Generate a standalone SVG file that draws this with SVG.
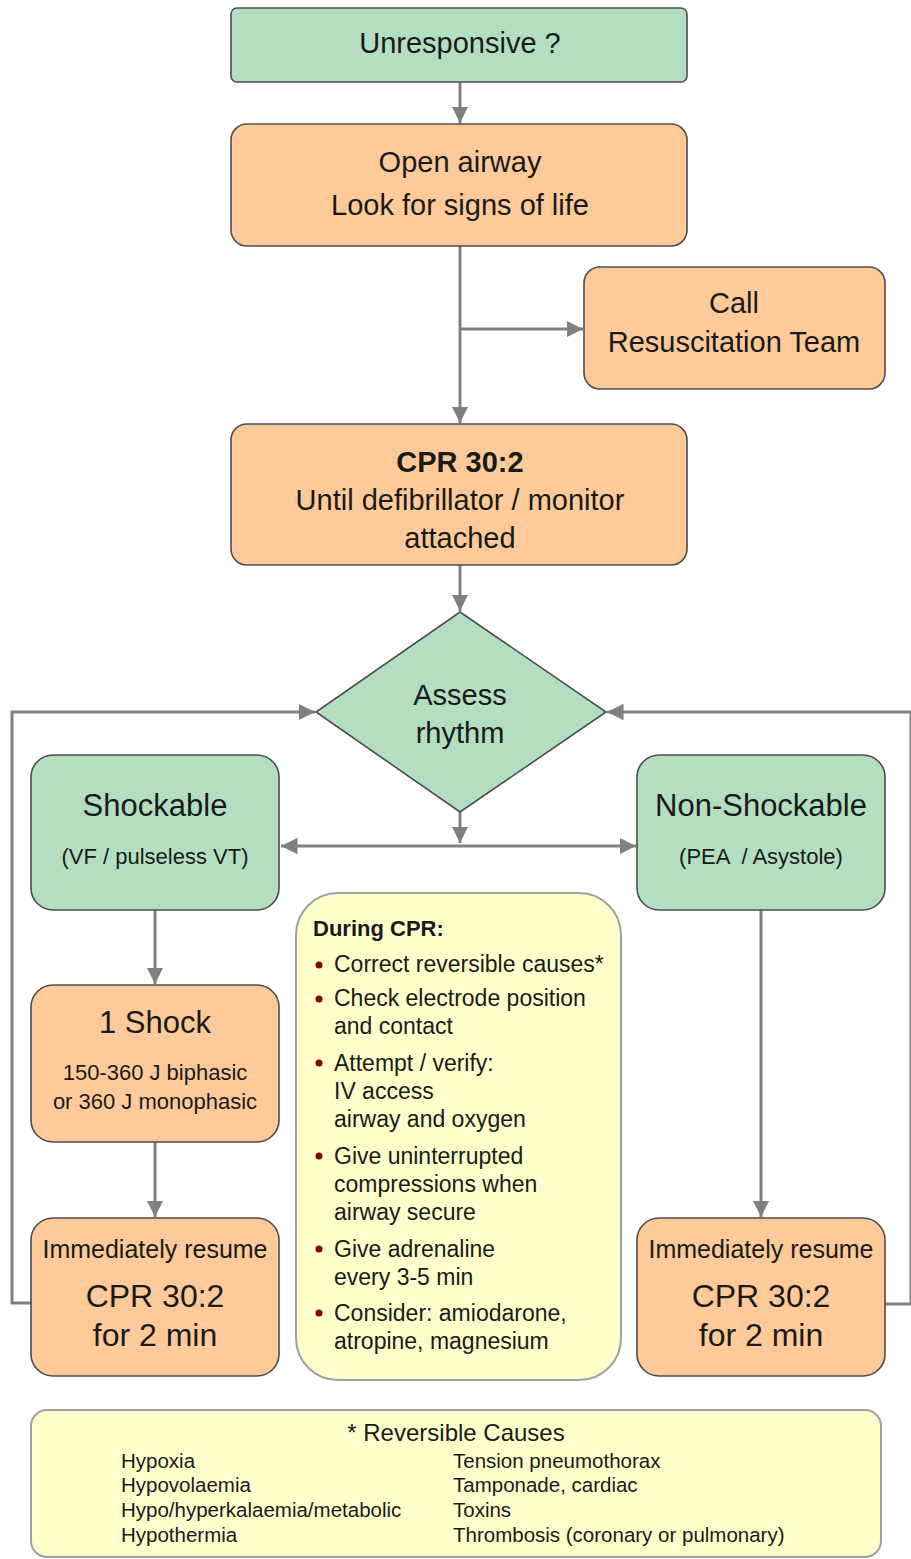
<svg xmlns="http://www.w3.org/2000/svg" width="911" height="1559" viewBox="0 0 911 1559">
<defs>
<style>
.g{fill:#b3dfc0;stroke:#4d4d4d;stroke-width:1.6}
.o{fill:#ffca99;stroke:#4d4d4d;stroke-width:1.6}
.y{fill:#ffffcc;stroke:#a0a0a0;stroke-width:2}
.c{fill:none;stroke:#808080;stroke-width:3}
text{font-family:"Liberation Sans",Arial,sans-serif;fill:#1a1a1a}
.m{text-anchor:middle}
.t29{font-size:29px}
.t31{font-size:31px}
.t22{font-size:22px}
.t23{font-size:23px}
.t20{font-size:20.5px}
.t32{font-size:32px}
.t25{font-size:25px}
.b{font-weight:bold}
.dot{fill:#8b0000}
</style>
<marker id="ah" viewBox="0 0 10 10" refX="10" refY="5" markerWidth="5.5" markerHeight="5.5" markerUnits="strokeWidth" orient="auto">
<path d="M0,0 L10,5 L0,10 z" fill="#808080"/>
</marker>
</defs>

<g id="connectors">
<line class="c" x1="460" y1="82" x2="460" y2="123" marker-end="url(#ah)"/>
<line class="c" x1="460" y1="246" x2="460" y2="423" marker-end="url(#ah)"/>
<line class="c" x1="460" y1="329" x2="583" y2="329" marker-end="url(#ah)"/>
<line class="c" x1="460" y1="565" x2="460" y2="611" marker-end="url(#ah)"/>
<line class="c" x1="460" y1="812" x2="460" y2="843" marker-end="url(#ah)"/>
<line class="c" x1="460" y1="846" x2="281" y2="846" marker-end="url(#ah)"/>
<line class="c" x1="460" y1="846" x2="636" y2="846" marker-end="url(#ah)"/>
<line class="c" x1="155" y1="910" x2="155" y2="984" marker-end="url(#ah)"/>
<line class="c" x1="155" y1="1142" x2="155" y2="1217" marker-end="url(#ah)"/>
<line class="c" x1="761" y1="910" x2="761" y2="1217" marker-end="url(#ah)"/>
<polyline class="c" points="31,1303 12,1303 12,712 315,712" marker-end="url(#ah)"/>
<polyline class="c" points="885,1304 911,1304 911,712 607,712" marker-end="url(#ah)"/>
</g>

<g id="unresponsive">
<rect class="g" x="231" y="8" width="456" height="74" rx="6"/>
<text class="m t29" x="460" y="53">Unresponsive ?</text>
</g>

<g id="open-airway">
<rect class="o" x="231" y="124" width="456" height="122" rx="16"/>
<text class="m t29" x="460" y="172">Open airway</text>
<text class="m t29" x="460" y="215">Look for signs of life</text>
</g>

<g id="call-team">
<rect class="o" x="584" y="267" width="301" height="122" rx="16"/>
<text class="m t29" x="734" y="313">Call</text>
<text class="m t29" x="734" y="352">Resuscitation Team</text>
</g>

<g id="cpr">
<rect class="o" x="231" y="424" width="456" height="141" rx="16"/>
<text class="m t29 b" x="460" y="472">CPR 30:2</text>
<text class="m t29" x="460" y="510">Until defibrillator / monitor</text>
<text class="m t29" x="460" y="548">attached</text>
</g>

<g id="assess">
<polygon class="g" points="460,612 606,712 460,812 316,712"/>
<text class="m t29" x="460" y="705">Assess</text>
<text class="m t29" x="460" y="743">rhythm</text>
</g>

<g id="shockable">
<rect class="g" x="31" y="755" width="248" height="155" rx="22"/>
<text class="m t31" x="155" y="816">Shockable</text>
<text class="m t22" x="155" y="864">(VF / pulseless VT)</text>
</g>

<g id="non-shockable">
<rect class="g" x="637" y="755" width="248" height="155" rx="22"/>
<text class="m t31" x="761" y="816">Non-Shockable</text>
<text class="m t22" x="761" y="864" xml:space="preserve">(PEA  / Asystole)</text>
</g>

<g id="shock">
<rect class="o" x="31" y="985" width="248" height="157" rx="22"/>
<text class="m t31" x="155" y="1033">1 Shock</text>
<text class="m t22" x="155" y="1080">150-360 J biphasic</text>
<text class="m t22" x="155" y="1109">or 360 J monophasic</text>
</g>

<g id="resume-left">
<rect class="o" x="31" y="1218" width="248" height="158" rx="22"/>
<text class="m t25" x="155" y="1258">Immediately resume</text>
<text class="m t32" x="155" y="1307">CPR 30:2</text>
<text class="m t32" x="155" y="1346">for 2 min</text>
</g>

<g id="resume-right">
<rect class="o" x="637" y="1218" width="248" height="158" rx="22"/>
<text class="m t25" x="761" y="1258">Immediately resume</text>
<text class="m t32" x="761" y="1307">CPR 30:2</text>
<text class="m t32" x="761" y="1346">for 2 min</text>
</g>

<g id="during-cpr">
<rect class="y" x="296" y="893" width="325" height="487" rx="42"/>
<text class="t22 b" x="313" y="936">During CPR:</text>
<circle class="dot" cx="319" cy="965" r="3.5"/>
<circle class="dot" cx="319" cy="999" r="3.5"/>
<circle class="dot" cx="319" cy="1063" r="3.5"/>
<circle class="dot" cx="319" cy="1156" r="3.5"/>
<circle class="dot" cx="319" cy="1249" r="3.5"/>
<circle class="dot" cx="319" cy="1313" r="3.5"/>
<text class="t23" x="334" y="972">Correct reversible causes*</text>
<text class="t23" x="334" y="1006">Check electrode position</text>
<text class="t23" x="334" y="1034">and contact</text>
<text class="t23" x="334" y="1071">Attempt / verify:</text>
<text class="t23" x="334" y="1099">IV access</text>
<text class="t23" x="334" y="1127">airway and oxygen</text>
<text class="t23" x="334" y="1164">Give uninterrupted</text>
<text class="t23" x="334" y="1192">compressions when</text>
<text class="t23" x="334" y="1220">airway secure</text>
<text class="t23" x="334" y="1257">Give adrenaline</text>
<text class="t23" x="334" y="1285">every 3-5 min</text>
<text class="t23" x="334" y="1321">Consider: amiodarone,</text>
<text class="t23" x="334" y="1349">atropine, magnesium</text>
</g>

<g id="reversible-causes">
<rect class="y" x="31" y="1410" width="850" height="147" rx="16"/>
<text class="m t23" x="456" y="1441" style="font-size:24px">* Reversible Causes</text>
<text class="t20" x="121" y="1468">Hypoxia</text>
<text class="t20" x="121" y="1492">Hypovolaemia</text>
<text class="t20" x="121" y="1517">Hypo/hyperkalaemia/metabolic</text>
<text class="t20" x="121" y="1542">Hypothermia</text>
<text class="t20" x="453" y="1468">Tension pneumothorax</text>
<text class="t20" x="453" y="1492">Tamponade, cardiac</text>
<text class="t20" x="453" y="1517">Toxins</text>
<text class="t20" x="453" y="1542">Thrombosis (coronary or pulmonary)</text>
</g>
</svg>
